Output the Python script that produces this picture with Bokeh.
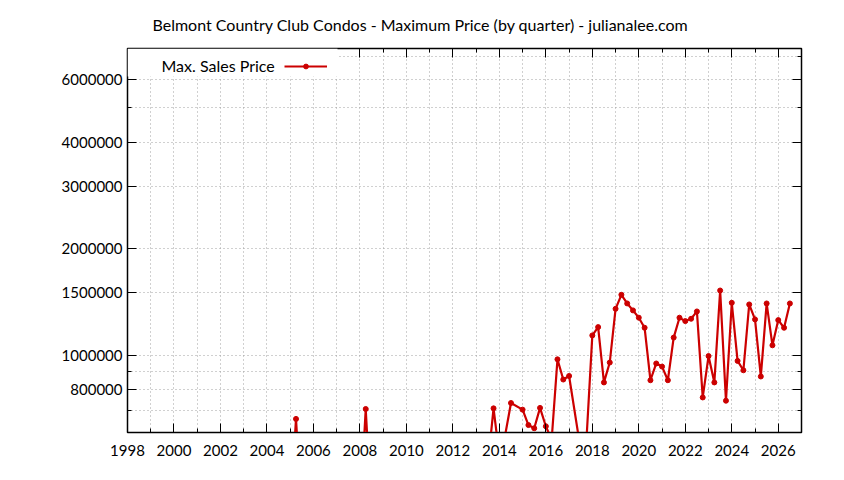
from bokeh.plotting import figure
from bokeh.models import (FixedTicker, LinearAxis, LogAxis, BasicTickFormatter,
                          CustomJSTickFormatter, Label, Legend, LegendItem, BoxAnnotation)
from bokeh.embed import file_html
from bokeh.resources import INLINE

# ---- data (quarterly maximum sales price) ----
quarters = [2005.0, 2005.25, 2005.5,
            2008.0, 2008.25, 2008.5,
            2013.5, 2013.75, 2014.0, 2014.25, 2014.5,
            2015.0, 2015.25, 2015.5, 2015.75, 2016.0, 2016.25, 2016.5, 2016.75,
            2017.0, 2017.5, 2017.75,
            2018.0, 2018.25, 2018.5, 2018.75,
            2019.0, 2019.25, 2019.5, 2019.75,
            2020.0, 2020.25, 2020.5, 2020.75,
            2021.0, 2021.25, 2021.5, 2021.75,
            2022.0, 2022.25, 2022.5, 2022.75,
            2023.0, 2023.25, 2023.5, 2023.75,
            2024.0, 2024.25, 2024.5, 2024.75,
            2025.0, 2025.25, 2025.5, 2025.75,
            2026.0, 2026.25, 2026.5]
max_price = [350000, 661000, 350000,
             350000, 705000, 350000,
             487000, 708000, 520000, 595000, 733000,
             702000, 635000, 622000, 710000, 630000, 577000, 974000, 854000,
             874000, 540000, 580000,
             1138000, 1201000, 838000, 954000,
             1353000, 1482000, 1401000, 1339000,
             1277000, 1196000, 850000, 948000,
             929000, 850000, 1122000, 1277000,
             1249000, 1268000, 1330000, 760000,
             995000, 838000, 1524000, 744000,
             1407000, 964000, 907000, 1392000,
             1263000, 871000, 1401000, 1067000,
             1257000, 1196000, 1401000]

x_major = [1998, 2000, 2002, 2004, 2006, 2008, 2010, 2012, 2014, 2016, 2018, 2020, 2022, 2024, 2026]
x_minor = [1999, 2001, 2003, 2005, 2007, 2009, 2011, 2013, 2015, 2017, 2019, 2021, 2023, 2025, 2027]
y_major = [800000, 1000000, 1500000, 2000000, 3000000, 4000000, 6000000]
y_minor = [600000, 700000, 900000, 5000000, 7000000]

title_text = "Belmont Country Club Condos - Maximum Price (by quarter) - julianalee.com"
series_name = "Max. Sales Price"

FONT = "Lato"
RED = "#cc0000"
GRID = "#a0a0a0"

p = figure(width=836, height=472, output_backend="svg", toolbar_location=None,
           x_range=(1998, 2027), y_range=(605000, 7360000), y_axis_type="log",
           min_border_left=127, min_border_right=35, min_border_top=48, min_border_bottom=40)
p.background_fill_color = "white"
p.border_fill_color = "white"
p.outline_line_color = "black"
p.outline_line_width = 1.5

p.title.text = title_text
p.title.text_font = FONT
p.title.text_font_size = "16px"
p.title.text_font_style = "normal"
p.title.text_color = "black"
p.title.align = "left"
p.title.vertical_align = "top"
p.title.offset = 25
p.title.standoff = 26

xt = FixedTicker(ticks=x_major, minor_ticks=x_minor)
yt = FixedTicker(ticks=y_major, minor_ticks=y_minor)
empty = CustomJSTickFormatter(code="return ''")

def style_axis(ax):
    ax.axis_line_color = "black"
    ax.major_tick_line_color = "black"
    ax.minor_tick_line_color = "black"
    ax.major_tick_in = 9
    ax.major_tick_out = 0
    ax.minor_tick_in = 4
    ax.minor_tick_out = 0
    ax.major_label_text_font = FONT
    ax.major_label_text_font_size = "15px"
    ax.major_label_text_color = "black"

xa = p.xaxis[0]
xa.ticker = xt
xa.formatter = BasicTickFormatter(use_scientific=False)
style_axis(xa)
xa.major_label_standoff = 12

ya = p.yaxis[0]
ya.ticker = yt
ya.formatter = BasicTickFormatter(use_scientific=False)
style_axis(ya)
ya.major_label_standoff = 5

top = LinearAxis(ticker=xt, formatter=empty)
style_axis(top)
top.major_label_text_font_size = "1px"
top.major_label_standoff = 0
p.add_layout(top, "above")
right = LogAxis(ticker=yt, formatter=empty)
style_axis(right)
right.major_label_text_font_size = "1px"
p.add_layout(right, "right")

for g, t in ((p.xgrid[0], xt), (p.ygrid[0], yt)):
    g.ticker = t
    g.grid_line_color = GRID
    g.grid_line_dash = "1 3"
    g.grid_line_width = 1
    g.minor_grid_line_color = GRID
    g.minor_grid_line_dash = "1 3"
    g.minor_grid_line_width = 1

ln = p.line(quarters, max_price, line_color=RED, line_width=2.2)
sc = p.scatter(quarters, max_price, size=5, color=RED)

# opaque key box
p.add_layout(BoxAnnotation(left=0, right=210, top=384, bottom=356,
                           left_units="screen", right_units="screen",
                           top_units="screen", bottom_units="screen",
                           fill_color="white", fill_alpha=1.0, line_color=None))

p.add_layout(Label(x=34, y=367, x_units="screen", y_units="screen", text=series_name,
                   text_font=FONT, text_font_size="16px", text_color="black",
                   text_align="left", text_baseline="middle"))

leg = Legend(items=[LegendItem(label=" ", renderers=[ln, sc])], location=(157, 360),
             padding=0, margin=0, spacing=0, glyph_width=43, glyph_height=12,
             label_width=0, label_standoff=0, label_text_font_size="1px",
             border_line_color=None, background_fill_alpha=0)
p.add_layout(leg)

open("out.html", "w").write(file_html(p, INLINE))
